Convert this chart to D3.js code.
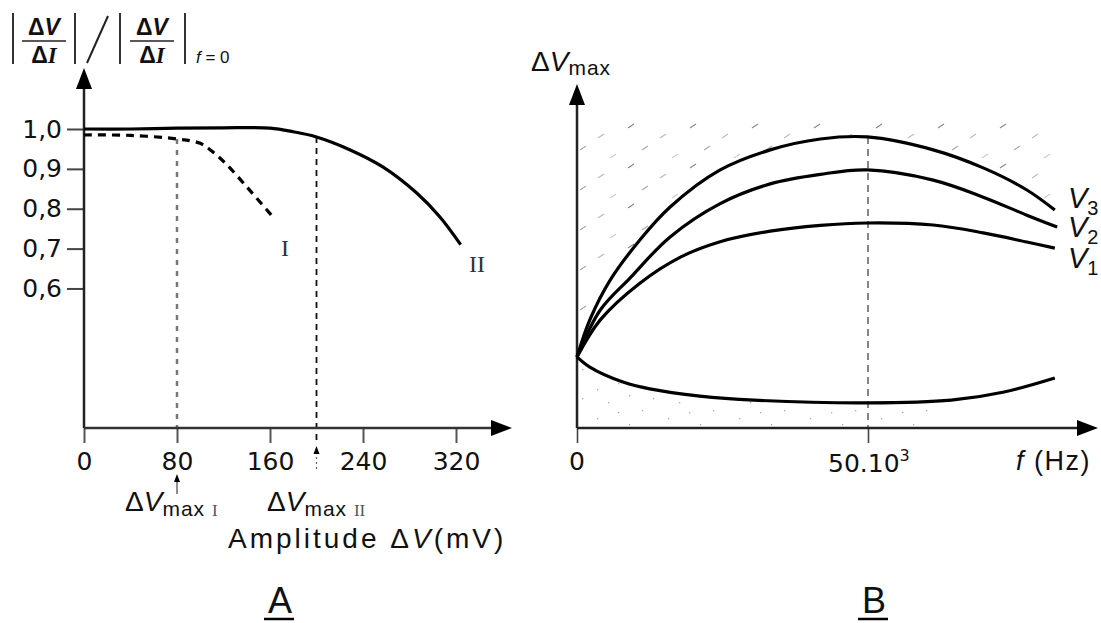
<!DOCTYPE html>
<html>
<head>
<meta charset="utf-8">
<script src="https://cdn.jsdelivr.net/npm/d3@7"></script>
<style>
  html, body { margin: 0; padding: 0; background: #fff; }
  svg { display: block; }
  text { font-family: "Liberation Sans", Arial, sans-serif; fill: #111; }
  .tick text { font-family: "DejaVu Sans", sans-serif; font-size: 25px; fill: #111; }
</style>
</head>
<body>
<div id="chart"></div>
<script>
// ---- data ----
// panel A : amplitude (mV) vs normalised impedance
const aTicksX = [0, 80, 160, 240, 320];
const aTicksY = [0.6, 0.7, 0.8, 0.9, 1.0];
const curveIx = [0, 40, 80, 100, 111, 123, 140, 157, 163];
const curveIy = [0.985, 0.984, 0.975, 0.964, 0.942, 0.91, 0.855, 0.798, 0.778];
const curveIIx = [0, 40, 80, 120, 160, 180, 200, 229, 257, 286, 306, 324];
const curveIIy = [1.0, 1.0, 1.002, 1.003, 1.002, 0.993, 0.98, 0.9475, 0.905, 0.84, 0.78, 0.71];
const vmaxI = 80, vmaxII = 200;

// panel B : frequency (kHz) vs dV max (arbitrary units)
const bTicksX = [0, 50];
const fV3 = [0, 2.2, 5.7, 10.8, 16, 24.6, 33.2, 41.8, 49.9, 61.2, 69.8, 77.3, 82.1];
const v3  = [20.9, 31.8, 43.5, 55.3, 65, 75.9, 81.8, 85, 85.6, 81.8, 76.5, 70, 64.1];
const fV2 = [0, 4, 9.1, 16, 24.6, 33.2, 41.8, 49.9, 61.2, 69.8, 77.3, 82.5];
const v2  = [20.9, 34.7, 44.1, 56.2, 66, 71.8, 74.6, 75.9, 72.9, 67.9, 62.6, 59.1];
const fV1 = [0, 4, 10.8, 17.7, 24.6, 33.2, 41.8, 49.9, 61.2, 69.8, 77.3, 82.1];
const v1  = [20.9, 31.8, 42.6, 50.2, 54.8, 57.9, 59.6, 60.3, 59.7, 57.4, 54.7, 52.9];
const fLow = [0, 2.2, 7.9, 12.5, 21.1, 30.4, 50, 64.3, 73.4, 82.1];
const vLow = [20.9, 17.9, 13.5, 11.5, 9.4, 8.2, 7.4, 8.2, 10.6, 14.7];
const fPeak = 50;

const zip = (xs, ys) => xs.map((x, i) => ({ x: x, y: ys[i] }));
const smooth = d3.curveCatmullRom.alpha(0.5);

const svg = d3.select("#chart").append("svg")
  .attr("width", 1101).attr("height", 623);

const defs = svg.append("defs");
const hatch = defs.append("pattern").attr("id", "hatch")
  .attr("patternUnits", "userSpaceOnUse").attr("width", 62).attr("height", 40)
  .attr("x", 0).attr("y", 120);
[[8,4,"#888"],[40,14,"#bbb"],[22,26,"#aaa"],[52,34,"#ccc"]].forEach(h => {
  hatch.append("line").attr("x1", h[0]).attr("y1", h[1] + 4).attr("x2", h[0] + 6).attr("y2", h[1])
    .attr("stroke", h[2]).attr("stroke-width", 1.2);
});

const stip = defs.append("pattern").attr("id", "stip")
  .attr("patternUnits", "userSpaceOnUse").attr("width", 71).attr("height", 29);
[[3,4],[29,12],[50,6],[14,21],[61,18],[40,25]].forEach(p => {
  stip.append("rect").attr("x", p[0]).attr("y", p[1])
    .attr("width", 1.3).attr("height", 1.3).attr("fill", "#aaa");
});

function arrowUp(g, x, y) {
  g.append("path").attr("d", `M${x},${y} L${x-8},${y+21} L${x+8},${y+21} Z`).attr("fill", "#000");
}
function arrowRight(g, x, y) {
  g.append("path").attr("d", `M${x},${y} L${x-21},${y-8} L${x-21},${y+8} Z`).attr("fill", "#000");
}

// ================= panel A =================
const xA = d3.scaleLinear().domain([0, 320]).range([84, 456]);
const yA = d3.scaleLinear().domain([0.25, 1.0]).range([428, 129]);
const gA = svg.append("g");

// dashed guides
gA.append("line")
  .attr("x1", xA(vmaxI)).attr("x2", xA(vmaxI))
  .attr("y1", yA(0.975)).attr("y2", 428)
  .attr("stroke", "#777").attr("stroke-width", 2.5).attr("stroke-dasharray", "5,6");
gA.append("line")
  .attr("x1", xA(vmaxII)).attr("x2", xA(vmaxII))
  .attr("y1", yA(0.98)).attr("y2", 442)
  .attr("stroke", "#111").attr("stroke-width", 1.8).attr("stroke-dasharray", "6,5");

// axes
gA.append("g").attr("transform", "translate(84,0)")
  .call(d3.axisLeft(yA).tickValues(aTicksY).tickSize(17)
    .tickFormat(d => d3.format(".1f")(d).replace(".", ",")))
  .call(g => g.select(".domain").remove())
  .call(g => g.selectAll(".tick line").attr("stroke", "#444").attr("stroke-width", 2))
  .call(g => g.selectAll(".tick text").attr("x", -22));

gA.append("g").attr("transform", "translate(0,428)")
  .call(d3.axisBottom(xA).tickValues(aTicksX).tickSize(15))
  .call(g => g.select(".domain").remove())
  .call(g => g.selectAll(".tick line").attr("stroke", "#555").attr("stroke-width", 2))
  .call(g => g.selectAll(".tick text").attr("y", 42).attr("dy", 0));

gA.append("line").attr("x1", 84).attr("x2", 84).attr("y1", 428).attr("y2", 85)
  .attr("stroke", "#222").attr("stroke-width", 2.5);
arrowUp(gA, 84, 68);
gA.append("line").attr("x1", 84).attr("x2", 495).attr("y1", 428).attr("y2", 428)
  .attr("stroke", "#333").attr("stroke-width", 2.5);
arrowRight(gA, 512, 428);

// curves
const lineA = d3.line().x(d => xA(d.x)).y(d => yA(d.y)).curve(smooth);
gA.append("path").datum(zip(curveIIx, curveIIy)).attr("d", lineA)
  .attr("fill", "none").attr("stroke", "#000").attr("stroke-width", 3.2);
gA.append("path").datum(zip(curveIx, curveIy)).attr("d", lineA)
  .attr("fill", "none").attr("stroke", "#000").attr("stroke-width", 3.2)
  .attr("stroke-dasharray", "8,6");

gA.append("text").attr("x", 285).attr("y", 256).attr("text-anchor", "middle")
  .style("font-family", "Liberation Serif, serif").style("font-size", "24px")
  .style("fill", "#333").text("I");
gA.append("text").attr("x", 477).attr("y", 272).attr("text-anchor", "middle")
  .style("font-family", "Liberation Serif, serif").style("font-size", "24px")
  .style("fill", "#333").text("II");

// little arrows under the axis
gA.append("line").attr("x1", xA(vmaxI)).attr("x2", xA(vmaxI)).attr("y1", 480).attr("y2", 494)
  .attr("stroke", "#444").attr("stroke-width", 1.2);
gA.append("path").attr("d", `M${xA(vmaxI)},474 l-3,8 l6,0 Z`).attr("fill", "#000");
gA.append("line").attr("x1", xA(vmaxII)).attr("x2", xA(vmaxII)).attr("y1", 452).attr("y2", 472)
  .attr("stroke", "#666").attr("stroke-width", 1.2).attr("stroke-dasharray", "2,3");
gA.append("path").attr("d", `M${xA(vmaxII)},446 l-3,8 l6,0 Z`).attr("fill", "#000");

function vmaxLabel(x, num) {
  const t = gA.append("text").attr("x", x).attr("y", 511).style("font-size", "28px");
  t.append("tspan").text("\u0394");
  t.append("tspan").style("font-style", "italic").text("V");
  t.append("tspan").attr("dy", 5).style("font-size", "21px")
    .style("letter-spacing", "1px").text("max ");
  t.append("tspan").style("font-family", "Liberation Serif, serif")
    .style("font-size", "17px").style("fill", "#555").text(num);
}
vmaxLabel(125, "I");
vmaxLabel(267, "II");

const amp = gA.append("text").attr("x", 228).attr("y", 548)
  .style("font-size", "28px").style("letter-spacing", "3px");
amp.append("tspan").text("Amplitude \u0394");
amp.append("tspan").style("font-style", "italic").text("V");
amp.append("tspan").text("(mV)");

// y label  |dV/dI| / |dV/dI|f=0
const yl = svg.append("g");
function frac(cx) {
  const n = yl.append("text").attr("x", cx).attr("y", 35).attr("text-anchor", "middle")
    .style("font-size", "23px").style("font-weight", "bold");
  n.append("tspan").text("\u0394");
  n.append("tspan").style("font-style", "italic").text("V");
  yl.append("line").attr("x1", cx - 22).attr("x2", cx + 22).attr("y1", 41).attr("y2", 41)
    .attr("stroke", "#222").attr("stroke-width", 1.6);
  const d = yl.append("text").attr("x", cx).attr("y", 63).attr("text-anchor", "middle")
    .style("font-size", "23px").style("font-weight", "bold");
  d.append("tspan").text("\u0394");
  d.append("tspan").style("font-family", "Liberation Serif, serif")
    .style("font-style", "italic").text("I");
}
[13, 75, 120, 185].forEach(x => {
  yl.append("line").attr("x1", x).attr("x2", x).attr("y1", 13).attr("y2", 64)
    .attr("stroke", "#333").attr("stroke-width", 2);
});
frac(44);
frac(152);
yl.append("line").attr("x1", 87).attr("y1", 63).attr("x2", 108).attr("y2", 16)
  .attr("stroke", "#222").attr("stroke-width", 2);
const sub = yl.append("text").attr("x", 196).attr("y", 63).style("font-size", "17px");
sub.append("tspan").style("font-style", "italic").text("f");
sub.append("tspan").text(" = 0");

// ================= panel B =================
const xB = d3.scaleLinear().domain([0, 50]).range([577, 868]);
const yB = d3.scaleLinear().domain([0, 100]).range([428, 88]);
const gB = svg.append("g");

// faint hatching above V3, stippling under the low curve
gB.append("path").datum(zip(fV3, v3))
  .attr("d", d3.area().x(d => xB(d.x)).y0(yB(90.5)).y1(d => yB(d.y)).curve(smooth))
  .attr("fill", "url(#hatch)");
gB.append("path").datum(zip(fLow, vLow).filter(d => d.x <= 64.3))
  .attr("d", d3.area().x(d => xB(d.x)).y0(yB(0)).y1(d => yB(d.y)).curve(smooth))
  .attr("fill", "url(#stip)");

gB.append("line").attr("x1", xB(fPeak)).attr("x2", xB(fPeak))
  .attr("y1", yB(85.6)).attr("y2", 428)
  .attr("stroke", "#666").attr("stroke-width", 1.6).attr("stroke-dasharray", "7,5");

gB.append("g").attr("transform", "translate(0,428)")
  .call(d3.axisBottom(xB).tickValues(bTicksX).tickSize(15).tickFormat(() => ""))
  .call(g => g.select(".domain").remove())
  .call(g => g.selectAll(".tick line").attr("stroke", "#444").attr("stroke-width", 1.6));

gB.append("line").attr("x1", 577).attr("x2", 577).attr("y1", 428).attr("y2", 100)
  .attr("stroke", "#222").attr("stroke-width", 2.5);
arrowUp(gB, 577, 84);
gB.append("line").attr("x1", 577).attr("x2", 1080).attr("y1", 428).attr("y2", 428)
  .attr("stroke", "#222").attr("stroke-width", 2.5);
arrowRight(gB, 1098, 428);

const lineB = d3.line().x(d => xB(d.x)).y(d => yB(d.y)).curve(smooth);
[[fV3, v3], [fV2, v2], [fV1, v1], [fLow, vLow]].forEach(s => {
  gB.append("path").datum(zip(s[0], s[1])).attr("d", lineB)
    .attr("fill", "none").attr("stroke", "#000").attr("stroke-width", 3.2);
});

// tick labels
gB.append("text").attr("x", xB(0)).attr("y", 470).attr("text-anchor", "middle")
  .style("font-family", "DejaVu Sans, sans-serif").style("font-size", "25px").text("0");
const t50 = gB.append("text").attr("x", xB(fPeak) - 40).attr("y", 472)
  .style("font-family", "DejaVu Sans, sans-serif").style("font-size", "25px");
t50.append("tspan").text("50.10");
t50.append("tspan").attr("dy", -11).style("font-size", "16px").text("3");
const fl = gB.append("text").attr("x", 1091).attr("y", 470).attr("text-anchor", "end")
  .style("font-size", "27px").style("letter-spacing", "1.5px");
fl.append("tspan").style("font-style", "italic").text("f");
fl.append("tspan").text(" (Hz)");

// curve names
[["3", 208], ["2", 237], ["1", 268]].forEach(l => {
  const t = gB.append("text").attr("x", 1068).attr("y", l[1]).style("font-size", "29px");
  t.append("tspan").style("font-style", "italic").text("V");
  t.append("tspan").attr("dy", 7).style("font-size", "20px").text(l[0]);
});

const dv = gB.append("text").attr("x", 531).attr("y", 71).style("font-size", "28px");
dv.append("tspan").text("\u0394");
dv.append("tspan").style("font-style", "italic").text("V");
dv.append("tspan").attr("dy", 4).style("font-size", "21px").style("letter-spacing", "1px").text("max");

// panel letters
[["A", 280], ["B", 874]].forEach(p => {
  svg.append("text").attr("x", p[1]).attr("y", 613).attr("text-anchor", "middle")
    .style("font-size", "36px").text(p[0]);
  svg.append("line").attr("x1", p[1] - 16).attr("x2", p[1] + 14).attr("y1", 619).attr("y2", 619)
    .attr("stroke", "#000").attr("stroke-width", 2.5);
});
</script>
</body>
</html>
